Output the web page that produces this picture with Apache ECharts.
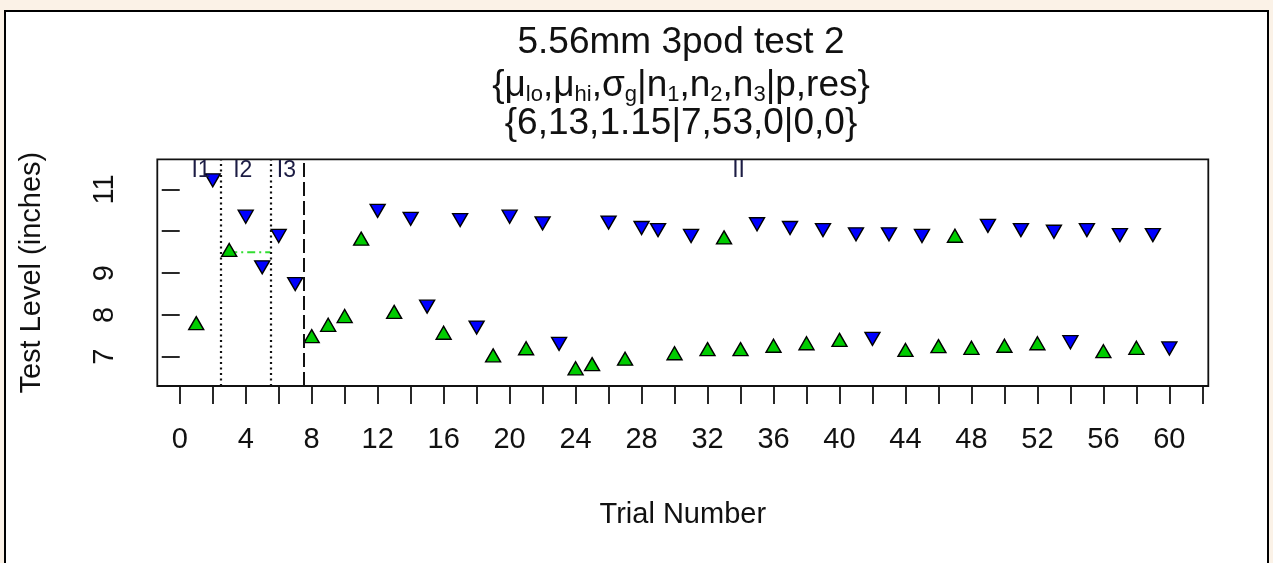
<!DOCTYPE html>
<html>
<head>
<meta charset="utf-8">
<script src="https://cdn.jsdelivr.net/npm/echarts@6/dist/echarts.min.js"></script>
<style>
html,body{margin:0;padding:0;background:#FBF2E7;}
#chart{width:1273px;height:563px;}
</style>
</head>
<body>
<div id="chart"></div>
<script>
// ---- data ----
const trials = [1,2,3,4,5,6,7,8,9,10,11,12,13,14,15,16,17,18,19,20,21,22,23,24,25,26,27,28,29,30,
                31,32,33,34,35,36,37,38,39,40,41,42,43,44,45,46,47,48,49,50,51,52,53,54,55,56,57,58,59,60];
const levels = [7.75,11.27,9.50,10.40,9.19,9.94,8.79,7.44,7.71,7.92,
                9.77,10.54,8.02,10.35,8.25,7.52,10.32,7.75,6.98,10.40,
                7.15,10.24,7.36,6.67,6.77,10.26,6.90,10.13,10.08,7.03,
                9.94,7.13,9.80,7.13,10.22,7.21,10.13,7.27,10.08,7.35,
                9.98,7.48,9.98,7.11,9.94,7.20,9.84,7.16,10.18,7.21,
                10.08,7.27,10.04,7.40,10.08,7.08,9.96,7.16,9.96,7.25];
// 1 = response (blue, down triangle), 0 = no response (green, up triangle)
const responses = [0,1,0,1,1,1,1,0,0,0,
                   0,1,0,1,1,0,1,1,0,1,
                   0,1,1,0,0,1,0,1,1,0,
                   1,0,0,0,1,0,1,0,1,0,
                   1,1,1,0,1,0,0,0,1,0,
                   1,0,1,1,1,0,1,0,1,1];
const xTickValues = [0,2,4,6,8,10,12,14,16,18,20,22,24,26,28,30,32,34,36,38,40,42,44,46,48,50,52,54,56,58,60,62];
const xLabelValues = [0,4,8,12,16,20,24,28,32,36,40,44,48,52,56,60];
const yTickValues = [7,8,9,10,11];
const yLabelValues = [7,8,9,11];
const dottedLinesX = [2.5, 5.5];
const dashedLinesX = [7.5];
const phaseNames = ['I1','I2','I3','II'];
const phaseX = [1.29, 3.82, 6.47, 33.88];
const phaseY = 11.46;
const greenSegX = [3, 5.5];
const greenSegY = 9.5;

const titleLine1 = '5.56mm 3pod test 2';
const titleLine2 = '{μ{s|lo},μ{s|hi},σ{s|g}|n{s|1},n{s|2},n{s|3}|p,res}';
const titleLine3 = '{6,13,1.15|7,53,0|0,0}';

// ---- build ----
const FONT = '"Liberation Sans", Arial, sans-serif';
const upData = [], downData = [];
trials.forEach((t, i) => {
  (responses[i] ? downData : upData).push([t, levels[i]]);
});

const chart = echarts.init(document.getElementById('chart'), null, {renderer: 'canvas'});
chart.setOption({
  animation: false,
  backgroundColor: '#FBF2E7',
  grid: {
    left: 157.3, top: 159.3, width: 1051, height: 226.7,
    show: true, borderColor: '#111', borderWidth: 1.8, backgroundColor: 'transparent'
  },
  xAxis: {
    type: 'value', min: -1.36, max: 62.36,
    axisLine: {show: false},
    splitLine: {show: false},
    axisTick: {show: true, inside: false, length: 18, customValues: xTickValues,
               lineStyle: {color: '#111', width: 1.8}},
    axisLabel: {customValues: xLabelValues, fontSize: 29, color: '#111', margin: 39, fontFamily: FONT},
    name: 'Trial Number', nameLocation: 'middle', nameGap: 114,
    nameTextStyle: {fontSize: 29, color: '#111', fontFamily: FONT}
  },
  yAxis: {
    type: 'value', min: 6.3, max: 11.72,
    axisLine: {show: false},
    splitLine: {show: false},
    axisTick: {show: true, inside: false, length: 18, customValues: yTickValues,
               lineStyle: {color: '#111', width: 1.8}},
    axisLabel: {customValues: yLabelValues, fontSize: 29, color: '#111', margin: 38, rotate: 90, fontFamily: FONT},
    name: 'Test Level (inches)', nameLocation: 'middle', nameGap: 111,
    nameTextStyle: {fontSize: 29, color: '#111', fontFamily: FONT}
  },
  graphic: [
    {type: 'rect', z: -100, silent: true,
     shape: {x: 5, y: 11, width: 1263, height: 600},
     style: {fill: '#ffffff', stroke: '#000', lineWidth: 2}},
    {type: 'text', x: 681, y: 43, silent: true,
     style: {text: titleLine1, fontSize: 37, fontFamily: FONT, fill: '#111',
             align: 'center', verticalAlign: 'middle', textAlign: 'center', textVerticalAlign: 'middle'}},
    {type: 'text', x: 681, y: 86, silent: true,
     style: {text: titleLine2, fontSize: 37, fontFamily: FONT, fill: '#111', lineHeight: 40,
             align: 'center', verticalAlign: 'middle', textAlign: 'center', textVerticalAlign: 'middle',
             rich: {s: {fontSize: 22, fontFamily: FONT, fill: '#111', lineHeight: 26, verticalAlign: 'bottom'}}}},
    {type: 'text', x: 681, y: 124, silent: true,
     style: {text: titleLine3, fontSize: 37, fontFamily: FONT, fill: '#111',
             align: 'center', verticalAlign: 'middle', textAlign: 'center', textVerticalAlign: 'middle'}}
  ],
  series: [
    {
      type: 'line', data: [[greenSegX[0], greenSegY], [greenSegX[1], greenSegY]],
      symbol: 'none', silent: true, z: 1,
      lineStyle: {color: '#33DD33', width: 2, type: [8, 4, 2, 4]},
      markLine: {
        silent: true, symbol: 'none', label: {show: false},
        data: dottedLinesX.map(v => ({xAxis: v, lineStyle: {color: '#111', width: 2.2, type: [2, 3.5]}}))
          .concat(dashedLinesX.map(v => ({xAxis: v, lineStyle: {color: '#111', width: 2, type: [14, 5]}})))
      }
    },
    {
      type: 'scatter', data: upData, symbol: 'triangle', symbolSize: [15, 13], symbolOffset: [0, -2.2],
      itemStyle: {color: '#00CC00', borderColor: '#000', borderWidth: 1.4, opacity: 1}, z: 3
    },
    {
      type: 'scatter', data: downData, symbol: 'triangle', symbolRotate: 180, symbolSize: [15, 13], symbolOffset: [0, 2.2],
      itemStyle: {color: '#0000FF', borderColor: '#000', borderWidth: 1.4, opacity: 1}, z: 3
    },
    {
      type: 'scatter', data: phaseNames.map((n, i) => ({name: n, value: [phaseX[i], phaseY]})),
      symbolSize: 0, silent: true, z: 4,
      itemStyle: {opacity: 1},
      label: {show: true, position: 'inside', formatter: p => p.name, fontSize: 23, color: '#1C1C44',
              textBorderWidth: 0, opacity: 1, fontFamily: FONT}
    }
  ]
});
</script>
</body>
</html>
